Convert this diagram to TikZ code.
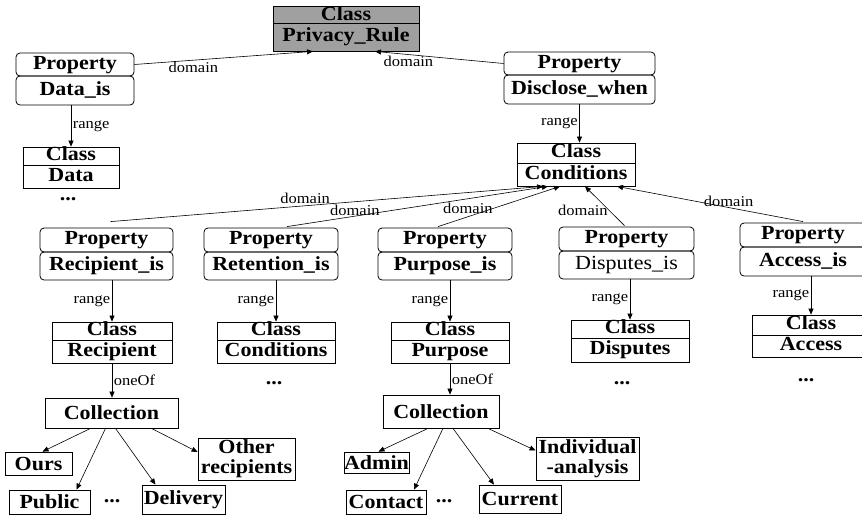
\documentclass[tikz,border=0pt]{standalone}
\usepackage{fontspec}
\setmainfont{Liberation Serif}[FakeStretch=1.1]
\usetikzlibrary{arrows.meta}
\definecolor{rulegray}{RGB}{160,160,160}
\newcommand{\bfont}{\fontsize{20}{20}\selectfont\bfseries}
\newcommand{\lfont}{\fontsize{15}{17}\selectfont}

\begin{document}
\begin{tikzpicture}[x=1pt,y=-1pt,
  propbox/.style={draw,rounded corners=4pt,line width=0.8pt,inner sep=0pt,
                  font=\bfont,text height=13pt,text depth=4pt},
  clsbox/.style={draw,line width=0.8pt,inner sep=0pt,font=\bfont,
                 text height=13pt,text depth=4pt},
  leafbox/.style={draw,line width=0.8pt,inner sep=0pt,font=\bfont,align=center},
  lbl/.style={font=\lfont,inner sep=1.5pt},
  arr/.style={-{Triangle[length=6pt,width=5pt]},line width=0.6pt}
]
\useasboundingbox (0,0) rectangle (862,515);
\clip (0,0) rectangle (862,515);

% top level
\node[clsbox,fill=rulegray,minimum width=146pt,minimum height=17pt,text depth=1pt] (rule) at (346,14.5) {Class};
\node[clsbox,fill=rulegray,minimum width=146pt,minimum height=28pt] (rule-n) at (346,37) {Privacy\_Rule};

\node[propbox,minimum width=118pt,minimum height=23pt] (datais) at (75,64.5) {Property};
\node[propbox,minimum width=118pt,minimum height=29pt] (datais-n) at (75,90.5) {Data\_is};
\node[clsbox,minimum width=96pt,minimum height=18pt] (data) at (71,156) {Class};
\node[clsbox,minimum width=96pt,minimum height=23pt] (data-n) at (71,176.5) {Data};
\node[font=\bfont] (data-dots) at (68,199) {...};

\node[propbox,minimum width=151pt,minimum height=23pt] (discl) at (579.5,63.5) {Property};
\node[propbox,minimum width=151pt,minimum height=29pt] (discl-n) at (579.5,89.5) {Disclose\_when};
\node[clsbox,minimum width=118pt,minimum height=20pt] (cond) at (576,153) {Class};
\node[clsbox,minimum width=118pt,minimum height=23pt] (cond-n) at (576,174.5) {Conditions};

\draw[arr] (datais.east) -- node[lbl,below,pos=.33]{domain} ([xshift=-33pt]rule-n.south);
\draw[arr] (discl.west) -- node[lbl,below,pos=.74]{domain} ([xshift=29pt]rule-n.south);
\draw[arr] (datais-n.south -| data.north) -- node[lbl,right]{range} (data.north);
\draw[arr] (discl-n.south) -- node[lbl,left]{range} (discl-n.south |- cond.north);

% properties of the conditions
\node[propbox,minimum width=133pt,minimum height=24pt] (recip) at (106.5,240) {Property};
\node[propbox,minimum width=133pt,minimum height=28pt] (recip-n) at (106.5,266) {Recipient\_is};
\node[propbox,minimum width=134pt,minimum height=24pt] (reten) at (271,240) {Property};
\node[propbox,minimum width=134pt,minimum height=28pt] (reten-n) at (271,266) {Retention\_is};
\node[propbox,minimum width=134pt,minimum height=24pt] (purp) at (445,240) {Property};
\node[propbox,minimum width=134pt,minimum height=28pt] (purp-n) at (445,266) {Purpose\_is};
\node[propbox,minimum width=135pt,minimum height=24pt] (disp) at (626.5,239) {Property};
\node[propbox,minimum width=135pt,minimum height=28pt,font=\fontsize{20}{20}\selectfont] (disp-n) at (626.5,265) {Disputes\_is};
\node[propbox,minimum width=126pt,minimum height=24pt] (acc) at (803,235) {Property};
\node[propbox,minimum width=126pt,minimum height=29pt] (acc-n) at (803,261.5) {Access\_is};

\draw[arr] ([shift={(4pt,6pt)}]recip.north) -- node[lbl,above,pos=.45]{domain} ([xshift=-33pt]cond-n.south);
\draw[arr] ([shift={(16pt,1pt)}]reten.north) -- node[lbl,above,pos=.26,inner sep=0pt]{domain} ([xshift=-28pt]cond-n.south);
\draw[arr] ([shift={(-7pt,1pt)}]purp.north) -- node[lbl,left,pos=.45,inner sep=0pt]{domain} ([xshift=-16pt]cond-n.south);
\draw[arr] ([shift={(-2pt,1pt)}]disp.north) -- node[lbl,left,pos=.38]{domain} ([xshift=9pt]cond-n.south);
\draw[arr] ([yshift=1pt]acc.north) -- node[lbl,above,pos=.4,inner sep=1pt]{domain} ([xshift=41pt]cond-n.south);

% range classes
\node[clsbox,minimum width=120pt,minimum height=18pt] (reccls) at (112,331) {Class};
\node[clsbox,minimum width=120pt,minimum height=23pt] (reccls-n) at (112,351.5) {Recipient};
\node[clsbox,minimum width=118pt,minimum height=18pt] (concls) at (276,331) {Class};
\node[clsbox,minimum width=118pt,minimum height=23pt] (concls-n) at (276,351.5) {Conditions};
\node[clsbox,minimum width=118pt,minimum height=18pt] (purcls) at (450,331) {Class};
\node[clsbox,minimum width=118pt,minimum height=23pt] (purcls-n) at (450,351.5) {Purpose};
\node[clsbox,minimum width=118pt,minimum height=18pt] (discls) at (630,329) {Class};
\node[clsbox,minimum width=118pt,minimum height=24pt] (discls-n) at (630,350) {Disputes};
\node[clsbox,minimum width=118pt,minimum height=20pt] (acccls) at (811,325) {Class};
\node[clsbox,minimum width=118pt,minimum height=22pt] (acccls-n) at (811,346) {Access};

\draw[arr] (recip-n.south -| reccls.north) -- node[lbl,left]{range} (reccls.north);
\draw[arr] (reten-n.south -| concls.north) -- node[lbl,left]{range} (concls.north);
\draw[arr] (purp-n.south -| purcls.north) -- node[lbl,left]{range} (purcls.north);
\draw[arr] (disp-n.south -| discls.north) -- node[lbl,left]{range} (discls.north);
\draw[arr] (acc-n.south -| acccls.north) -- node[lbl,left]{range} (acccls.north);

\node[font=\bfont] (concls-dots) at (274,383) {...};
\node[font=\bfont] (discls-dots) at (622,383) {...};
\node[font=\bfont] (acccls-dots) at (806,380) {...};

% recipient values
\node[leafbox,minimum width=133pt,minimum height=30pt] (coll1) at (111.5,413) {Collection};
\draw[arr] (reccls-n.south) -- node[lbl,right]{oneOf} (reccls-n.south |- coll1.north);
\node[leafbox,minimum width=67pt,minimum height=23pt] (ours) at (38.5,463.5) {Ours};
\node[leafbox,minimum width=81pt,minimum height=24pt] (public) at (49.5,502) {Public};
\node[leafbox,minimum width=83pt,minimum height=29pt] (deliv) at (183.5,499.5) {Delivery};
\node[leafbox,minimum width=97pt,minimum height=42pt] (other) at (246.5,459) {Other\\recipients};
\node[font=\bfont] (coll1-dots) at (112,501) {...};
\draw[arr] ([xshift=-21pt]coll1.south) -- ([xshift=4pt]ours.north);
\draw[arr] ([xshift=-6pt]coll1.south) -- ([xshift=27pt]public.north);
\draw[arr] ([xshift=4pt]coll1.south) -- ([xshift=-28pt]deliv.north);
\draw[arr] ([xshift=40pt]coll1.south) -- ([yshift=7pt]other.west);

% purpose values
\node[leafbox,minimum width=116pt,minimum height=33pt] (coll2) at (441,411.5) {Collection};
\draw[arr] (purcls-n.south) -- node[lbl,right]{oneOf} (purcls-n.south |- coll2.north);
\node[leafbox,minimum width=65pt,minimum height=21pt] (admin) at (376.5,462.5) {Admin};
\node[leafbox,minimum width=80pt,minimum height=24pt] (contact) at (386,502) {Contact};
\node[leafbox,minimum width=82pt,minimum height=28pt] (current) at (520,499) {Current};
\node[leafbox,minimum width=103pt,minimum height=43pt] (indiv) at (587.5,458.5) {Individual\\-analysis};
\node[font=\bfont] (coll2-dots) at (444,501) {...};
\draw[arr] ([xshift=-13pt]coll2.south) -- ([xshift=2pt]admin.north);
\draw[arr] ([xshift=2pt]coll2.south) -- ([xshift=28pt]contact.north);
\draw[arr] ([xshift=12pt]coll2.south) -- ([xshift=-26pt]current.north);
\draw[arr] ([xshift=47pt]coll2.south) -- ([yshift=8pt]indiv.west);
\end{tikzpicture}
\end{document}
